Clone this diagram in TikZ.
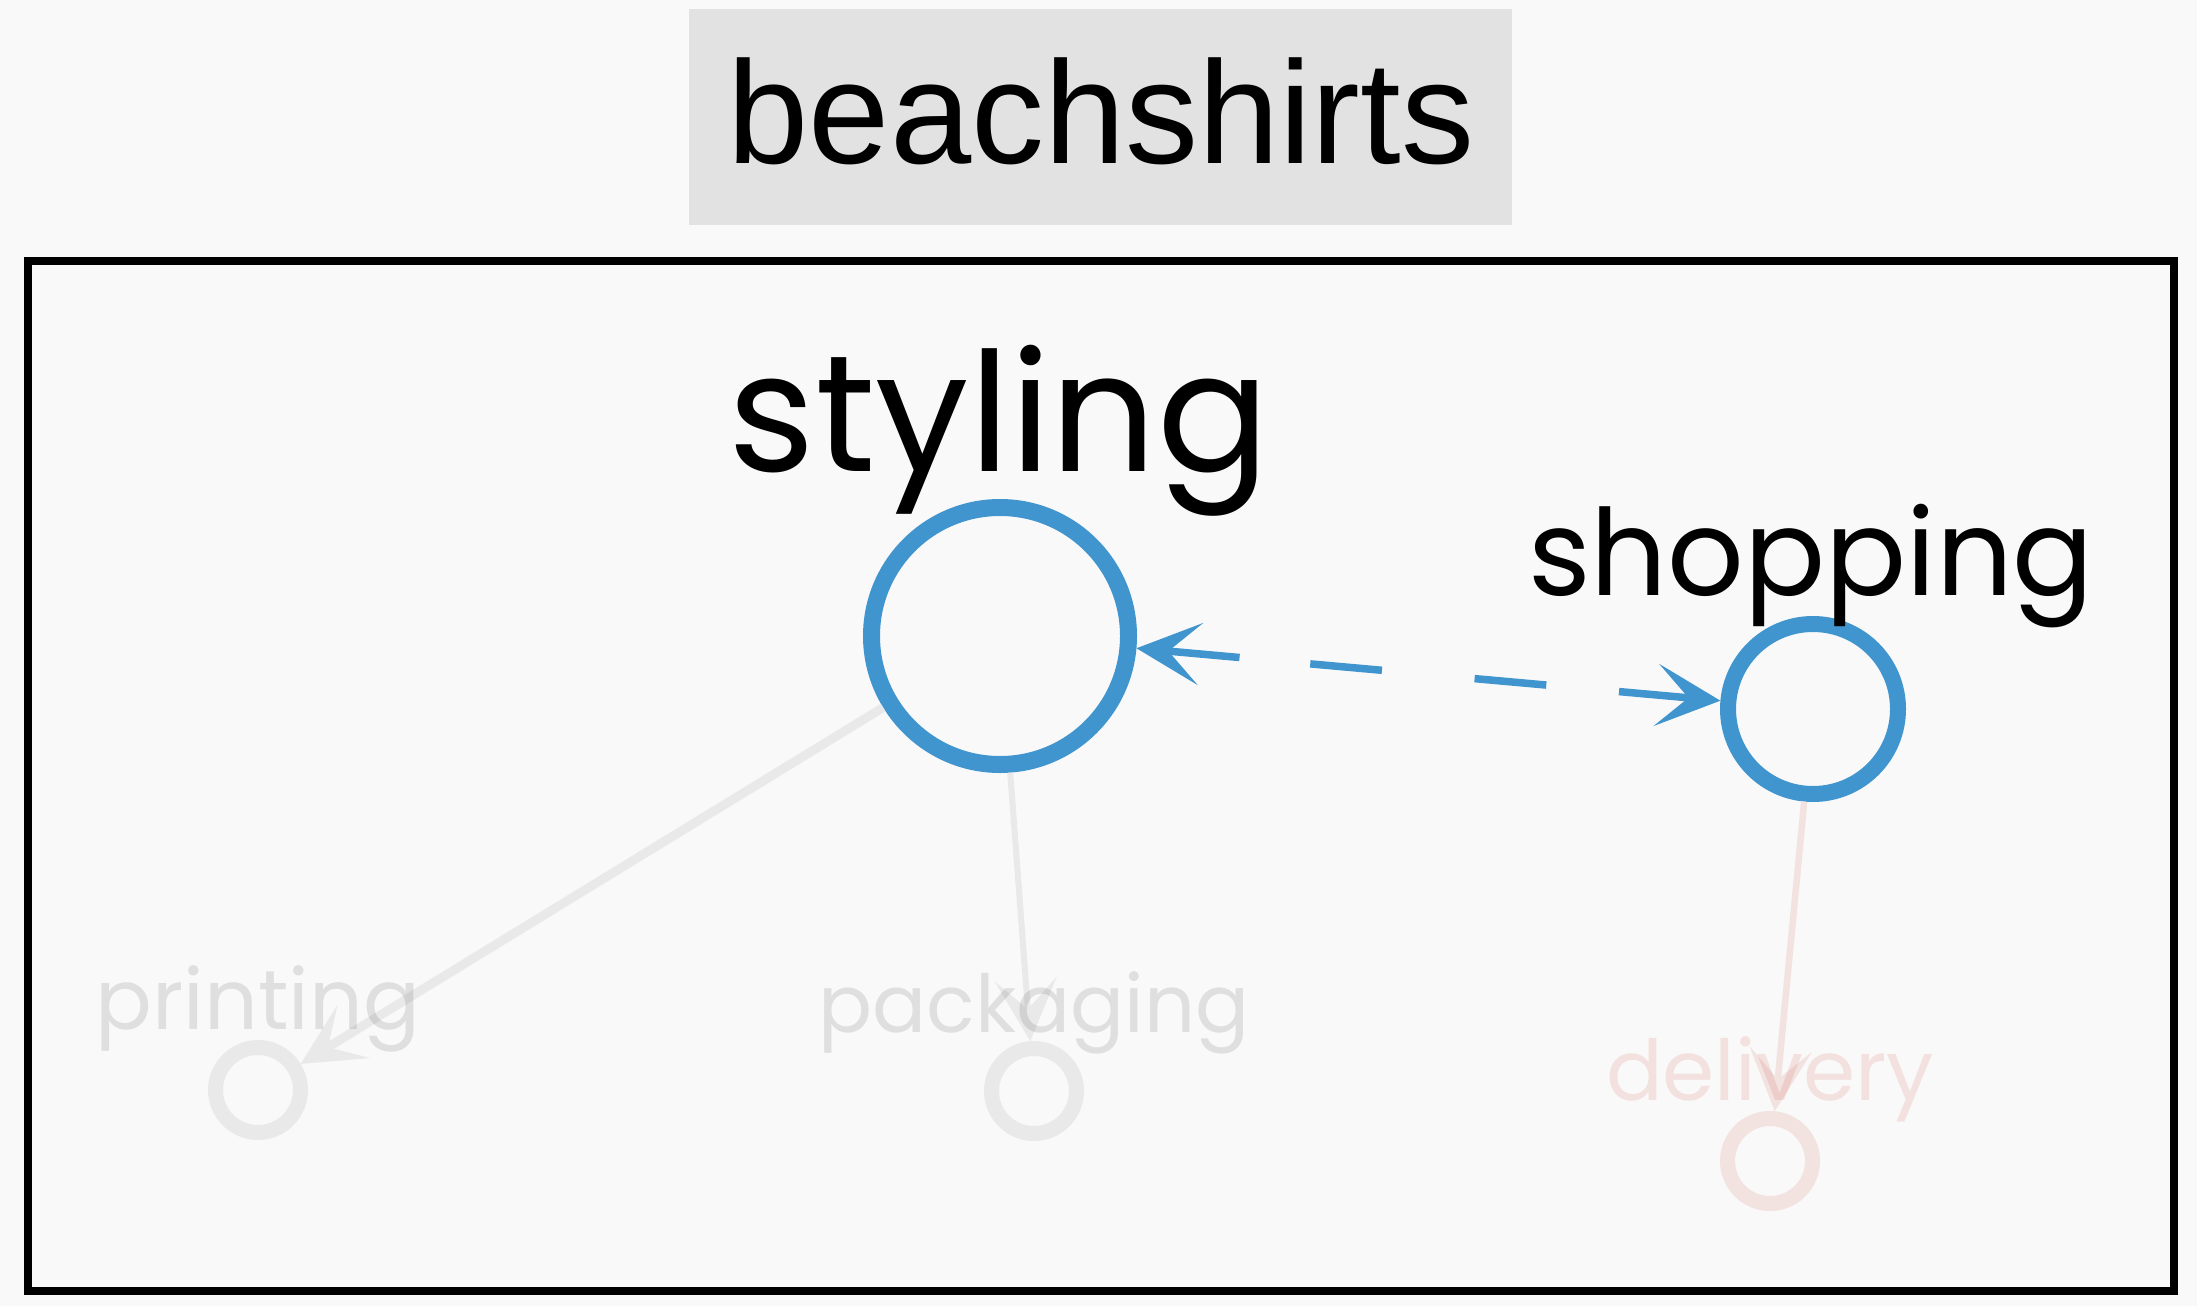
\documentclass[tikz,border=0pt]{standalone}
\usepackage{fontspec}
\setmainfont{Liberation Sans}
\newfontfamily\labfont{Poppins}
\usetikzlibrary{arrows.meta}
\definecolor{bg}{RGB}{249,249,249}
\definecolor{titlebg}{RGB}{226,226,226}
\definecolor{blueC}{RGB}{64,149,207}
\definecolor{pinkC}{RGB}{205,70,50}
\definecolor{fadeGray}{RGB}{233,233,233}
\definecolor{fadePink}{RGB}{242,226,224}
\tikzset{
  bignode/.style={circle, draw=blueC, fill=bg, inner sep=0pt},
  fadenode/.style={circle, draw=fadeGray, inner sep=0pt, line width=15pt, minimum size=85pt},
  pinknode/.style={circle, draw=fadePink, inner sep=0pt, line width=15pt, minimum size=85pt},
  fadelabel/.style={anchor=base, text=black, text opacity=0.1, inner sep=0pt, font=\labfont\fontsize{84}{84}\selectfont},
  pinklabel/.style={anchor=base, text=pinkC, text opacity=0.13, inner sep=0pt, font=\labfont\fontsize{84}{84}\selectfont},
  tipS/.style={-{Stealth[length=62pt,width=62pt,inset=30pt]}},
  fadeedge/.style={tipS, draw=fadeGray},
  pinkedge/.style={tipS, draw=fadePink, line width=6.5pt},
  blueedge/.style={{Stealth[length=64pt,width=62pt,inset=32pt]}-{Stealth[length=64pt,width=62pt,inset=32pt]}, draw=blueC, line width=7.5pt,
    dash pattern=on 75pt off 71pt on 72pt off 93pt on 72pt off 73pt on 80pt off 300pt}
}
\begin{document}
\begin{tikzpicture}[x=1pt,y=-1pt]
\fill[bg] (0,0) rectangle (2197,1306);
\useasboundingbox (0,0) rectangle (2197,1306);
% title
\node[fill=titlebg, minimum width=823pt, minimum height=216pt, inner sep=0pt] (titlebox) at (1100.5,117) {};
\node[anchor=base, inner sep=0pt, font=\fontsize{146}{146}\selectfont] (title) at (1101,163) {beachshirts};
% frame
\draw[line width=7.7pt] (28,261) rectangle (2174,1291);
% nodes
\node[bignode, line width=17pt, minimum size=257pt] (styling) at (1000,636) {};
\node[bignode, line width=16pt, minimum size=170pt] (shopping) at (1813,709) {};
\node[fadenode] (printing) at (258,1090) {};
\node[fadenode] (packaging) at (1034,1091) {};
\node[pinknode] (delivery) at (1770,1161) {};
% edges
\draw[fadeedge, line width=9pt] (styling) -- (printing);
\draw[fadeedge, line width=6pt] (styling) -- (packaging);
\draw[pinkedge] (shopping) -- (delivery);
\draw[blueedge] (styling) -- (shopping);
% labels
\node[anchor=base, inner sep=0pt, font=\labfont\fontsize{166}{166}\selectfont] (stylinglab) at (999,471) {styling};
\node[anchor=base, inner sep=0pt, font=\labfont\fontsize{120}{120}\selectfont] (shoppinglab) at (1811,595) {shopping};
\node[fadelabel] (printinglab) at (258,1029) {printing};
\node[fadelabel, font=\labfont\fontsize{80}{80}\selectfont] (packaginglab) at (1034,1032) {packaging};
\node[pinklabel] (deliverylab) at (1770,1100) {delivery};
\end{tikzpicture}
\end{document}
